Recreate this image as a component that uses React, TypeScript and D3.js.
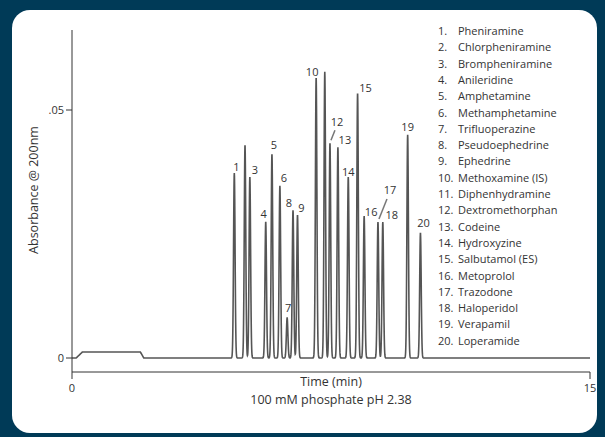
import React from "react";
import * as d3 from "d3";

const peakNumbers = [1, 2, 3, 4, 5, 6, 7, 8, 9, 10, 11, 12, 13, 14, 15, 16, 17, 18, 19, 20];
const peakTimes = [4.7, 5.01, 5.15, 5.61, 5.79, 6.02, 6.23, 6.4, 6.53, 7.07, 7.32, 7.47, 7.7, 8.0, 8.27, 8.46, 8.86, 9.0, 9.72, 10.09];
const peakHeights = [0.0373, 0.0429, 0.0365, 0.0274, 0.0411, 0.0347, 0.0081, 0.0298, 0.0288, 0.0565, 0.0577, 0.0433, 0.0425, 0.0365, 0.0534, 0.0286, 0.0274, 0.0274, 0.045, 0.0252];
const compounds = [
  "Pheniramine", "Chlorpheniramine", "Brompheniramine", "Anileridine", "Amphetamine",
  "Methamphetamine", "Trifluoperazine", "Pseudoephedrine", "Ephedrine", "Methoxamine (IS)",
  "Diphenhydramine", "Dextromethorphan", "Codeine", "Hydroxyzine", "Salbutamol (ES)",
  "Metoprolol", "Trazodone", "Haloperidol", "Verapamil", "Loperamide",
];
// injection baseline bump
const bumpTimes = [0, 0.12, 0.3, 1.98, 2.08, 15];
const bumpValues = [0, 0, 0.0012, 0.0012, 0, 0];
// peak label offsets from the peak top (px)
const labelDx = [2, 0, 5, -2, 2, 4, 1, -4, 4, -4, 0, 7, 7, 0, 8, 7, 12, 9, 0, 3];
const labelDy = [-2, 0, -3, -4, -5, -4, -6, -3, -3, -2, 0, -17, -3, -1, -1, 0, -28, -3, -4, -6];

export default function App() {
  const W = 605, H = 437;
  const x = d3.scaleLinear().domain([0, 15]).range([72, 590]);
  const y = d3.scaleLinear().domain([0, 0.05]).range([358, 110]);
  const sigma = 0.022;
  const baseline = d3.scaleLinear().domain(bumpTimes).range(bumpValues);
  const pts: [number, number][] = [];
  for (let t = 0; t <= 15; t += 0.004) {
    let v = baseline(t);
    peakTimes.forEach((pt, i) => {
      const d = (t - pt) / sigma;
      if (Math.abs(d) < 6) v += peakHeights[i] * Math.exp(-0.5 * d * d);
    });
    pts.push([t, v]);
  }
  const line = d3.line<[number, number]>().x((d) => x(d[0])).y((d) => y(d[1]));
  const font = "'Open Sans', 'Noto Sans', sans-serif";
  const ink = "#333";
  const px = (i: number) => x(peakTimes[i]);
  const py = (i: number) => y(peakHeights[i]);
  return (
    <svg width={W} height={H} style={{ position: "absolute", left: 0, top: 0 }} fontFamily={font}>
      <rect x={0} y={0} width={W} height={H} fill="#003a57" />
      <rect x={12} y={10} width={585} height={423} rx={18} fill="#fff" />
      <path d={line(pts) || ""} fill="none" stroke="#555" strokeWidth={1.6} />
      {/* axes */}
      <line x1={72} x2={72} y1={30} y2={372} stroke={ink} strokeWidth={1} />
      <line x1={72} x2={590} y1={372} y2={372} stroke={ink} strokeWidth={1} />
      {[0, 0.05].map((v) => (
        <g key={v}>
          <line x1={66} x2={72} y1={y(v)} y2={y(v)} stroke={ink} />
          <text x={64} y={y(v) + 4} textAnchor="end" fontSize={11} fill={ink}>{v === 0 ? "0" : ".05"}</text>
        </g>
      ))}
      {[0, 15].map((v) => (
        <g key={v}>
          <line x1={x(v)} x2={x(v)} y1={372} y2={379} stroke={ink} />
          <text x={x(v)} y={392} textAnchor="middle" fontSize={11} fill={ink}>{v}</text>
        </g>
      ))}
      <text transform="translate(38,190) rotate(-90)" textAnchor="middle" fontSize={12.5} fill={ink}>Absorbance @ 200nm</text>
      <text x={331} y={386} textAnchor="middle" fontSize={12.5} fill={ink}>Time (min)</text>
      <text x={331} y={404} textAnchor="middle" fontSize={12.5} fill={ink}>100 mM phosphate pH 2.38</text>
      {/* peak labels */}
      {peakNumbers.map((n, i) =>
        n === 2 || n === 11 ? null : (
          <text key={n} x={px(i) + labelDx[i]} y={py(i) + labelDy[i]} textAnchor="middle" fontSize={11} fill={ink}>{n}</text>
        )
      )}
      <line x1={px(11) + 1} y1={py(11) - 3} x2={px(11) + 5} y2={py(11) - 13} stroke="#777" strokeWidth={1.5} />
      <line x1={px(16) + 1} y1={py(16) - 3} x2={px(16) + 9} y2={py(16) - 23} stroke="#777" strokeWidth={1.5} />
      {/* legend */}
      {compounds.map((c, i) => (
        <g key={c} fontSize={11} fill={ink}>
          <text x={438} y={35 + i * 16.3}>{`${i + 1}.`}</text>
          <text x={458} y={35 + i * 16.3}>{c}</text>
        </g>
      ))}
    </svg>
  );
}
